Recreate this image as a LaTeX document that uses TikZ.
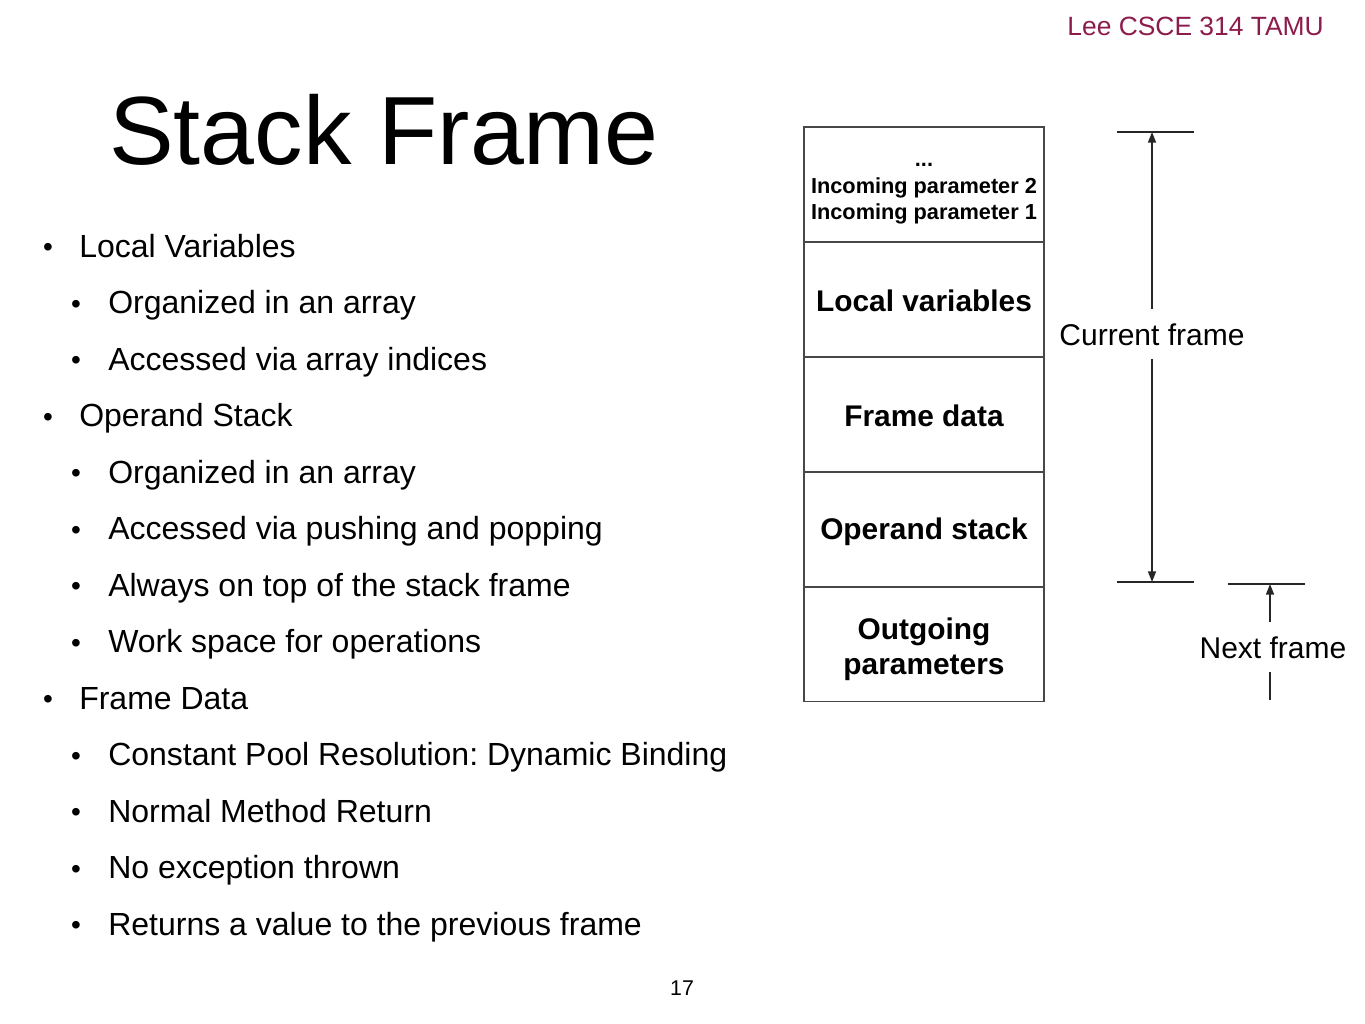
\documentclass[tikz,border=0pt]{standalone}
\usepackage{fontspec}
\setmainfont{Liberation Sans}
\usetikzlibrary{arrows.meta}
\definecolor{hdr}{RGB}{140,28,76}
\begin{document}
\frenchspacing
\begin{tikzpicture}[x=0.75pt,y=-0.75pt,
  every node/.style={inner sep=0pt},
  title/.style={anchor=base west,font=\fontsize{72.7}{80}\selectfont},
  lvone/.style={anchor=base west,font=\fontsize{24}{28}\selectfont},
  lvtwo/.style={anchor=base west,font=\fontsize{24}{28}\selectfont},
  dot/.style={anchor=base,font=\fontsize{21}{24}\selectfont},
  cell/.style={draw=black!72,line width=1.3pt,minimum width=180pt,minimum height=86.25pt,inner sep=0pt},
  bigtext/.style={align=center,font=\bfseries\fontsize{22.4}{26.25}\selectfont},
  celltext/.style={align=center,font=\bfseries\fontsize{16.3}{19.8}\selectfont},
  lbl/.style={font=\fontsize{22.5}{26}\selectfont,inner xsep=0pt,inner ysep=0pt,text height=17pt,text depth=0pt},
  tick/.style={line width=1.1pt,black!85},
  arr/.style={line width=1.1pt,black!85,-{Triangle[length=8pt,width=6pt]}},
  plain/.style={line width=1.1pt,black!85}]
\useasboundingbox[fill=white] (0,0) rectangle (1365,1024);

% header and page number
\node[anchor=base east,text=hdr,font=\fontsize{19.8}{22}\selectfont] (hd) at (1324,36) {Lee CSCE 314 TAMU};
\node[anchor=base,font=\fontsize{16}{19}\selectfont] (pg) at (682,995) {17};

% title
\node[title] (ttl) at (109,165) {Stack Frame};

% bullets
\node[dot] (d1) at (48,256.5) {\textbullet};
\node[lvone] (t1) at (79,257) {Local Variables};
\node[dot] (d2) at (76,313) {\textbullet};
\node[lvtwo] (t2) at (108,313.5) {Organized in an array};
\node[dot] (d3) at (76,369.5) {\textbullet};
\node[lvtwo] (t3) at (108,370) {Accessed via array indices};
\node[dot] (d4) at (48,426) {\textbullet};
\node[lvone] (t4) at (79,426.5) {Operand Stack};
\node[dot] (d5) at (76,482.5) {\textbullet};
\node[lvtwo] (t5) at (108,483) {Organized in an array};
\node[dot] (d6) at (76,539) {\textbullet};
\node[lvtwo] (t6) at (108,539.5) {Accessed via pushing and popping};
\node[dot] (d7) at (76,595.5) {\textbullet};
\node[lvtwo] (t7) at (108,596) {Always on top of the stack frame};
\node[dot] (d8) at (76,652) {\textbullet};
\node[lvtwo] (t8) at (108,652.5) {Work space for operations};
\node[dot] (d9) at (48,708.5) {\textbullet};
\node[lvone] (t9) at (79,709) {Frame Data};
\node[dot] (d10) at (76,765) {\textbullet};
\node[lvtwo] (t10) at (108,765.5) {Constant Pool Resolution: Dynamic Binding};
\node[dot] (d11) at (76,821.5) {\textbullet};
\node[lvtwo] (t11) at (108,822) {Normal Method Return};
\node[dot] (d12) at (76,878) {\textbullet};
\node[lvtwo] (t12) at (108,878.5) {No exception thrown};
\node[dot] (d13) at (76,934.5) {\textbullet};
\node[lvtwo] (t13) at (108,935) {Returns a value to the previous frame};

% stack frame cells
\node[cell] (c1) at (924,184.5) {};
\node[cell] (c2) at (924,299.5) {};
\node[cell] (c3) at (924,414.5) {};
\node[cell] (c4) at (924,529.5) {};
\node[cell] (c5) at (924,644) {};
\node[celltext] (c1t) at (924,194) {...\\Incoming parameter 2\\Incoming parameter 1};
\node[bigtext] (c2t) at (924,300.5) {Local variables};
\node[bigtext] (c3t) at (924,415.5) {Frame data};
\node[bigtext] (c4t) at (924,532) {Operand stack};
\node[bigtext] (c5t) at (924,649) {Outgoing\\parameters};

% current frame
\coordinate (ctl) at (1117,132);
\coordinate (ctr) at (1194,132);
\coordinate (cbl) at (1117,582);
\coordinate (cbr) at (1194,582);
\coordinate (ctop) at (1152,132);
\coordinate (cbot) at (1152,582);
\draw[tick] (ctl) -- (ctr);
\draw[tick] (cbl) -- (cbr);
\node[lbl,inner ysep=10pt] (cur) at (1152,334) {Current frame};
\draw[arr] (cur.north -| ctop) -- (ctop);
\draw[arr] (cur.south -| cbot) -- (cbot);

% next frame
\coordinate (ntl) at (1228,584);
\coordinate (ntr) at (1305,584);
\coordinate (ntop) at (1270,584);
\coordinate (nbot) at (1270,700);
\draw[tick] (ntl) -- (ntr);
\node[lbl,inner ysep=10pt] (nxt) at (1273,647) {Next frame};
\draw[arr] (nxt.north -| ntop) -- (ntop);
\draw[plain] (nxt.south -| nbot) -- (nbot);
\end{tikzpicture}
\end{document}
